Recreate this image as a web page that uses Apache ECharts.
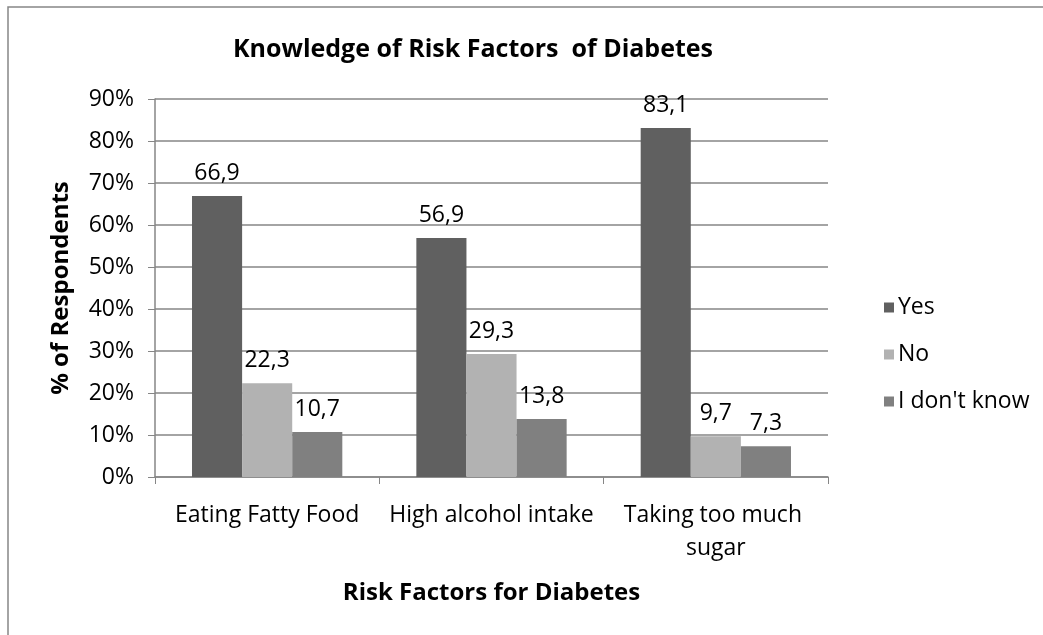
<!DOCTYPE html>
<html>
<head>
<meta charset="utf-8">
<script src="https://cdn.jsdelivr.net/npm/echarts@6/dist/echarts.min.js"></script>
<style>
  html, body { margin: 0; padding: 0; background: #fff; }
  #chart { width: 1043px; height: 635px; }
</style>
</head>
<body>
<div id="chart"></div>
<script>
// data
var categories = ['Eating Fatty Food', 'High alcohol intake', 'Taking too much sugar']
var yesValues = [66.9, 56.9, 83.1]
var noValues = [22.3, 29.3, 9.7]
var dontKnowValues = [10.7, 13.8, 7.3]
var seriesNames = ['Yes', 'No', "I don't know"]

var font = 'Open Sans'
var chart = echarts.init(document.getElementById('chart'))

function labelFmt (p) {
  return String(p.value).replace('.', ',')
}

function barSeries (name, data, color) {
  return {
    name: name,
    type: 'bar',
    data: data,
    barGap: '0%',
    barCategoryGap: '33%',
    itemStyle: { color: color },
    label: {
      show: true,
      position: 'top',
      distance: 11,
      formatter: labelFmt,
      color: '#000',
      fontFamily: font,
      fontSize: 23
    }
  }
}

chart.setOption({
  animation: false,
  backgroundColor: '#fff',
  graphic: [{
    type: 'rect',
    shape: { x: 8, y: 7, width: 1060, height: 660 },
    style: { fill: 'none', stroke: '#868686', lineWidth: 1.5 },
    silent: true
  }],
  title: {
    text: 'Knowledge of Risk Factors  of Diabetes',
    left: 468,
    textAlign: 'center',
    top: 32,
    textStyle: { fontFamily: font, fontWeight: 'bold', fontSize: 25, color: '#000' }
  },
  legend: {
    orient: 'vertical',
    left: 879,
    top: 291,
    itemWidth: 10,
    itemHeight: 10,
    itemGap: 24,
    icon: 'rect',
    textStyle: { fontFamily: font, fontSize: 23, color: '#000', padding: [0, 0, 0, -1] },
    data: seriesNames
  },
  grid: { left: 155, right: 215, top: 99, bottom: 158 },
  xAxis: {
    type: 'category',
    data: categories,
    name: 'Risk Factors for Diabetes',
    nameLocation: 'middle',
    nameGap: 104,
    nameTextStyle: { fontFamily: font, fontWeight: 'bold', fontSize: 24, color: '#000' },
    axisLine: { lineStyle: { color: '#868686', width: 1.5 } },
    axisTick: { show: true, length: 7, lineStyle: { color: '#868686' } },
    axisLabel: {
      interval: 0,
      fontFamily: font,
      fontSize: 23,
      color: '#000',
      margin: 22,
      width: 218,
      overflow: 'break',
      lineHeight: 33
    }
  },
  yAxis: {
    type: 'value',
    min: 0,
    max: 90,
    interval: 10,
    name: '% of Respondents',
    nameLocation: 'middle',
    nameGap: 82,
    nameTextStyle: { fontFamily: font, fontWeight: 'bold', fontSize: 24, color: '#000' },
    axisLine: { show: true, lineStyle: { color: '#868686', width: 1.5 } },
    axisTick: { show: true, inside: false, length: 7, lineStyle: { color: '#868686' } },
    splitLine: { lineStyle: { color: '#868686', width: 1.5 } },
    axisLabel: {
      formatter: '{value}%',
      fontFamily: font,
      fontSize: 23,
      color: '#000',
      margin: 21
    }
  },
  series: [
    barSeries(seriesNames[0], yesValues, '#606060'),
    barSeries(seriesNames[1], noValues, '#b2b2b2'),
    barSeries(seriesNames[2], dontKnowValues, '#808080')
  ]
})
</script>
</body>
</html>
